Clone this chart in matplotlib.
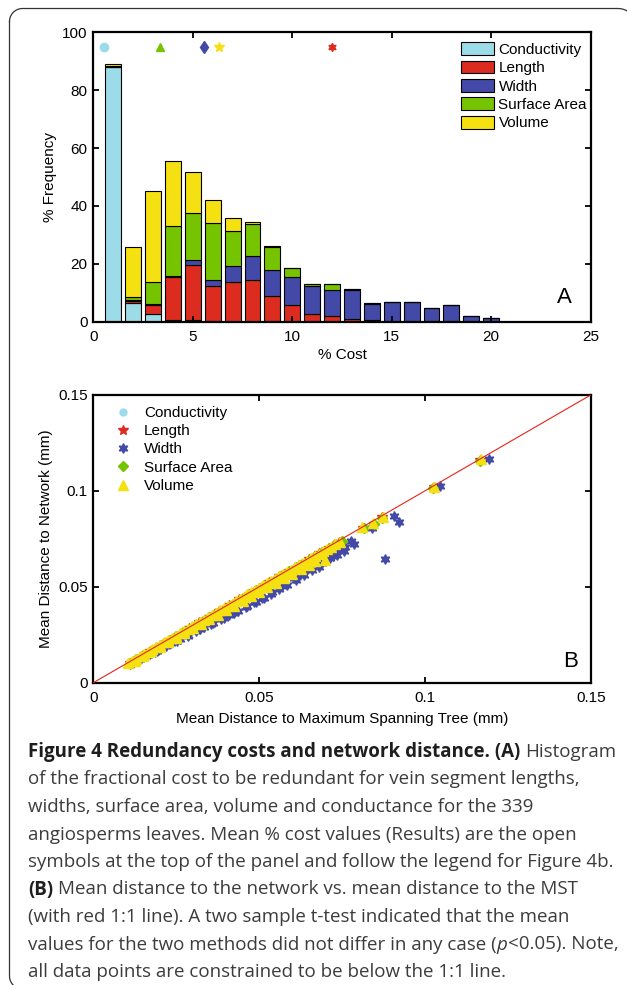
import numpy as np
import matplotlib
matplotlib.use('Agg')
import matplotlib.pyplot as plt
from matplotlib.lines import Line2D

W, H = 627, 985

# ---- panel A: stacked histogram of % cost
bins = np.arange(1, 21)
cond_pct = [88.0, 6.6, 2.6, 0.7, 0.7, 0.2, 0, 0, 0, 0, 0, 0, 0, 0, 0, 0, 0, 0, 0, 0]
length_pct = [0, 0.6, 3.2, 14.8, 19.0, 12.3, 13.8, 14.3, 8.9, 5.8, 2.8, 1.8, 1.0, 0.5, 0, 0, 0, 0, 0, 0]
width_pct = [0.2, 0.2, 0.3, 0.2, 1.6, 1.8, 5.6, 8.3, 9.1, 9.5, 9.5, 9.3, 10.0, 5.5, 6.75, 6.75, 4.7, 5.8, 2.0, 1.3]
surface_pct = [0.3, 1.0, 7.7, 17.2, 16.3, 19.9, 11.8, 11.2, 7.9, 3.3, 0.6, 1.8, 0.3, 0.3, 0, 0, 0, 0, 0, 0]
volume_pct = [0.4, 17.4, 31.2, 22.7, 14.0, 7.9, 4.7, 0.8, 0.3, 0.1, 0.2, 0.2, 0.1, 0.2, 0, 0, 0, 0, 0, 0]

# mean % cost markers at the top of panel A
mean_cost = {'Conductivity': 0.54, 'Length': 12.0, 'Width': 5.58, 'Surface Area': 3.35, 'Volume': 6.3}

labels = ['Conductivity', 'Length', 'Width', 'Surface Area', 'Volume']
colors = ['#9bdce8', '#dc2b1f', '#4249a6', '#76c300', '#f5e011']

# ---- panel B: mean distance to network vs to MST (mm)
cond_x = [0.0112, 0.0152, 0.0192, 0.0232, 0.0272, 0.0312, 0.0352, 0.0392, 0.0432, 0.0472, 0.0512, 0.0552, 0.0592, 0.0632, 0.0672, 0.0712]
cond_y = [0.0104, 0.0144, 0.0183, 0.0223, 0.0263, 0.0302, 0.0342, 0.0382, 0.0421, 0.0461, 0.0500, 0.0540, 0.0580, 0.0619, 0.0659, 0.0698]

len_x = [0.0110, 0.0140, 0.0170, 0.0200, 0.0230, 0.0260, 0.0290, 0.0320, 0.0350, 0.0380, 0.0410, 0.0440, 0.0470,
         0.0500, 0.0530, 0.0560, 0.0590, 0.0620, 0.0650, 0.0680, 0.0710, 0.0740, 0.0813, 0.0846, 0.0872, 0.1026, 0.1167]
len_y = [0.0105, 0.0135, 0.0165, 0.0195, 0.0225, 0.0255, 0.0285, 0.0315, 0.0344, 0.0375, 0.0405, 0.0434, 0.0465,
         0.0494, 0.0525, 0.0555, 0.0584, 0.0615, 0.0644, 0.0674, 0.0704, 0.0733, 0.0809, 0.0830, 0.0864, 0.1020, 0.1163]

wid_x = [0.0110, 0.0135, 0.0160, 0.0185, 0.0210, 0.0235, 0.0260, 0.0285, 0.0310, 0.0335, 0.0360, 0.0385, 0.0410,
         0.0435, 0.0460, 0.0485, 0.0510, 0.0535, 0.0560, 0.0585, 0.0610, 0.0635, 0.0660, 0.0690, 0.0715, 0.0745, 0.0760,
         0.0120, 0.0141, 0.0165, 0.0191, 0.0220, 0.0252, 0.0285, 0.0322, 0.0355, 0.0393, 0.0425, 0.0463, 0.0490,
         0.0514, 0.0540, 0.0569, 0.0604, 0.0624, 0.0642, 0.0680, 0.0723, 0.0736, 0.0755, 0.0778, 0.0785, 0.0839,
         0.0881, 0.0906, 0.0921, 0.1045, 0.1194]
wid_y = [0.0098, 0.0119, 0.0141, 0.0162, 0.0184, 0.0205, 0.0227, 0.0248, 0.0270, 0.0290, 0.0312, 0.0333, 0.0354,
         0.0375, 0.0397, 0.0419, 0.0441, 0.0464, 0.0488, 0.0511, 0.0536, 0.0561, 0.0585, 0.0625, 0.0650, 0.0696, 0.0705,
         0.0104, 0.0121, 0.0143, 0.0163, 0.0189, 0.0217, 0.0246, 0.0278, 0.0306, 0.0337, 0.0366, 0.0398, 0.0423,
         0.0441, 0.0472, 0.0502, 0.0548, 0.0560, 0.0593, 0.0603, 0.0660, 0.0666, 0.0688, 0.0740, 0.0723, 0.0808,
         0.0645, 0.0870, 0.0836, 0.1025, 0.1164]

surf_x = [0.0110, 0.0130, 0.0150, 0.0170, 0.0190, 0.0210, 0.0230, 0.0250, 0.0270, 0.0290, 0.0310, 0.0330, 0.0350,
          0.0370, 0.0390, 0.0410, 0.0430, 0.0450, 0.0470, 0.0490, 0.0510, 0.0530, 0.0550, 0.0570, 0.0590, 0.0610,
          0.0630, 0.0650, 0.0670, 0.0690, 0.0710, 0.0730, 0.0750, 0.0815, 0.0848, 0.0870, 0.1025, 0.1165]
surf_y = [0.0101, 0.0121, 0.0142, 0.0161, 0.0182, 0.0201, 0.0222, 0.0241, 0.0262, 0.0281, 0.0302, 0.0321, 0.0342,
          0.0361, 0.0381, 0.0401, 0.0421, 0.0441, 0.0461, 0.0481, 0.0501, 0.0521, 0.0541, 0.0561, 0.0581, 0.0601,
          0.0621, 0.0641, 0.0661, 0.0681, 0.0701, 0.0721, 0.0740, 0.0806, 0.0826, 0.0858, 0.1016, 0.1157]

vol_x = [0.0105, 0.0117, 0.0129, 0.0141, 0.0153, 0.0165, 0.0177, 0.0189, 0.0201, 0.0213, 0.0225, 0.0237, 0.0249,
         0.0261, 0.0273, 0.0285, 0.0297, 0.0309, 0.0321, 0.0333, 0.0345, 0.0357, 0.0369, 0.0381, 0.0393, 0.0405,
         0.0417, 0.0429, 0.0441, 0.0453, 0.0465, 0.0477, 0.0489, 0.0501, 0.0513, 0.0525, 0.0537, 0.0549, 0.0561,
         0.0573, 0.0585, 0.0597, 0.0609, 0.0621, 0.0633, 0.0645, 0.0657, 0.0669, 0.0681, 0.0693, 0.0705, 0.0717,
         0.0729, 0.0743,
         0.0125, 0.0150, 0.0175, 0.0200, 0.0225, 0.0250, 0.0275, 0.0300, 0.0325, 0.0350, 0.0375, 0.0400, 0.0425,
         0.0450, 0.0475, 0.0500, 0.0525, 0.0550, 0.0575, 0.0600, 0.0625, 0.0650, 0.0670, 0.0700,
         0.0811, 0.0844, 0.0874, 0.1027, 0.1168]
vol_y = [0.0103, 0.0114, 0.0126, 0.0139, 0.0150, 0.0162, 0.0175, 0.0186, 0.0198, 0.0210, 0.0222, 0.0234, 0.0246,
         0.0258, 0.0270, 0.0282, 0.0294, 0.0306, 0.0318, 0.0329, 0.0341, 0.0353, 0.0365, 0.0377, 0.0389, 0.0401,
         0.0412, 0.0424, 0.0436, 0.0448, 0.0460, 0.0472, 0.0484, 0.0496, 0.0507, 0.0519, 0.0531, 0.0543, 0.0555,
         0.0566, 0.0578, 0.0590, 0.0602, 0.0614, 0.0626, 0.0637, 0.0649, 0.0661, 0.0673, 0.0685, 0.0697, 0.0709,
         0.0721, 0.0735,
         0.0115, 0.0139, 0.0163, 0.0187, 0.0211, 0.0235, 0.0259, 0.0283, 0.0307, 0.0331, 0.0355, 0.0378, 0.0402,
         0.0426, 0.0450, 0.0473, 0.0497, 0.0521, 0.0545, 0.0568, 0.0592, 0.0616, 0.0632, 0.0642,
         0.0810, 0.0831, 0.0866, 0.1022, 0.1165]

caption_lines = [
    [("Figure 4 Redundancy costs and network distance. (A)", 'bold', 'normal', 0), ("Histogram", 'normal', 'normal', 1)],
    [("of the fractional cost to be redundant for vein segment lengths,", 'normal', 'normal', 0)],
    [("widths, surface area, volume and conductance for the 339", 'normal', 'normal', 0)],
    [("angiosperms leaves. Mean % cost values (Results) are the open", 'normal', 'normal', 0)],
    [("symbols at the top of the panel and follow the legend for Figure 4b.", 'normal', 'normal', 0)],
    [("(B)", 'bold', 'normal', 0), ("Mean distance to the network vs. mean distance to the MST", 'normal', 'normal', 1)],
    [("(with red 1:1 line). A two sample t-test indicated that the mean", 'normal', 'normal', 0)],
    [("values for the two methods did not differ in any case (", 'normal', 'normal', 0),
     ("p", 'normal', 'italic', 0), ("<0.05). Note,", 'normal', 'normal', 0)],
    [("all data points are constrained to be below the 1:1 line.", 'normal', 'normal', 0)],
]

plt.rcParams['font.family'] = ['Liberation Sans', 'DejaVu Sans']
plt.rcParams['font.size'] = 11


def style_axes(a):
    for s in a.spines.values():
        s.set_linewidth(1.6)
    a.tick_params(direction='in', length=4, width=1.3, top=True, right=True, labelsize=11)
    a.tick_params(axis='x', pad=6)
    a.tick_params(axis='y', pad=4)


fig = plt.figure(figsize=(W / 100, H / 100), dpi=100)

# rounded frame (pixel coords from top-left); right and bottom sides fall off the canvas
L, T, R, B, r = 9.5, 8.5, 636.0, 989.0, 18.0
fx, fy = [], []
for (cx, cy), a0 in [((L + 13, T + 13), np.pi), ((R - r, T + r), 1.5 * np.pi),
                     ((R - r, B - r), 0.0), ((L + 13, B - 13), 0.5 * np.pi)]:
    rr = 13 if cx < W / 2 else r
    th = np.linspace(a0, a0 + 0.5 * np.pi, 15)
    fx.extend(cx + rr * np.cos(th))
    fy.extend(cy + rr * np.sin(th))
fx.append(fx[0])
fy.append(fy[0])
fig.add_artist(Line2D(np.array(fx) / W, 1 - np.array(fy) / H, transform=fig.transFigure,
                      color='#333333', linewidth=0.9))

# panel A
ax = fig.add_axes([93.3 / W, 1 - 321.7 / H, 497.4 / W, 289.4 / H])
bottom = np.zeros(len(bins))
for vals, c, lab in zip([cond_pct, length_pct, width_pct, surface_pct, volume_pct], colors, labels):
    ax.bar(bins, vals, 0.8, bottom=bottom, color=c, edgecolor='black', linewidth=0.8, label=lab)
    bottom += np.array(vals)

top_markers = {'Conductivity': 'o', 'Length': (6, 1, 0), 'Width': 'd', 'Surface Area': '^', 'Volume': '*'}
for lab, c in zip(labels, colors):
    ax.plot(mean_cost[lab], 95, marker=top_markers[lab], color=c, mec=c, ms=6 if lab != 'Volume' else 7,
            linestyle='none')

ax.set_xlim(0, 25)
ax.set_ylim(0, 100)
ax.set_xticks([0, 5, 10, 15, 20, 25])
ax.set_yticks([0, 20, 40, 60, 80, 100])
ax.set_xlabel('% Cost', fontsize=11, labelpad=3)
ax.set_ylabel('% Frequency', fontsize=11, labelpad=4)
style_axes(ax)
ax.legend(loc='upper left', bbox_to_anchor=(0.739, 0.966), frameon=False, borderpad=0, borderaxespad=0,
          handlelength=2.2, handleheight=0.9, handletextpad=0.26, labelspacing=0.25, fontsize=11)
ax.text(0.948, 0.085, 'A', transform=ax.transAxes, fontsize=16, ha='center', va='center')

# panel B
ax2 = fig.add_axes([93.3 / W, 1 - 682.7 / H, 497.4 / W, 287.7 / H])
ax2.plot(cond_x, cond_y, 'o', color=colors[0], mec=colors[0], ms=5, label='Conductivity')
ax2.plot(len_x, len_y, '*', color=colors[1], mec=colors[1], ms=7, label='Length')
ax2.plot(wid_x, wid_y, linestyle='none', marker=(6, 1, 0), color=colors[2], mec=colors[2], ms=7, label='Width')
ax2.plot(surf_x, surf_y, 'D', color=colors[3], mec=colors[3], ms=5, label='Surface Area')
ax2.plot(vol_x, vol_y, '^', color=colors[4], mec=colors[4], ms=7, label='Volume')
ax2.plot([0, 0.15], [0, 0.15], color='#e8231a', linewidth=0.8, zorder=5)

ax2.set_xlim(0, 0.15)
ax2.set_ylim(0, 0.15)
ax2.set_xticks([0, 0.05, 0.1, 0.15])
ax2.set_xticklabels(['0', '0.05', '0.1', '0.15'])
ax2.set_yticks([0, 0.05, 0.1, 0.15])
ax2.set_yticklabels(['0', '0.05', '0.1', '0.15'])
ax2.set_xlabel('Mean Distance to Maximum Spanning Tree (mm)', fontsize=11, labelpad=5)
ax2.set_ylabel('Mean Distance to Network (mm)', fontsize=11, labelpad=4)
style_axes(ax2)
ax2.legend(loc='upper left', bbox_to_anchor=(0.044, 0.962), frameon=False, borderpad=0, borderaxespad=0,
           handlelength=1.0, handletextpad=0.87, labelspacing=0.28, numpoints=1, fontsize=11)
ax2.text(0.959, 0.072, 'B', transform=ax2.transAxes, fontsize=16, ha='center', va='center')

# caption, drawn run by run so bold / italic parts sit on one line
cap_size = 13.5
renderer = fig.canvas.get_renderer()
space_px = cap_size * 100 / 72 * 0.26
for i, runs in enumerate(caption_lines):
    y = 1 - (752 + 27.5 * i) / H
    x = 28
    for s, weight, style, gap in runs:
        x += gap * space_px
        if s.startswith('<'):
            x += 1.0
        t = fig.text(x / W, y, s, fontsize=cap_size, family=['Open Sans', 'DejaVu Sans'],
                     fontweight=weight, fontstyle=style, ha='left', va='center',
                     color='#1e1e1e' if weight == 'bold' else '#3c3c3c')
        x = t.get_window_extent(renderer).x1

fig.savefig('out.png', dpi=100)
